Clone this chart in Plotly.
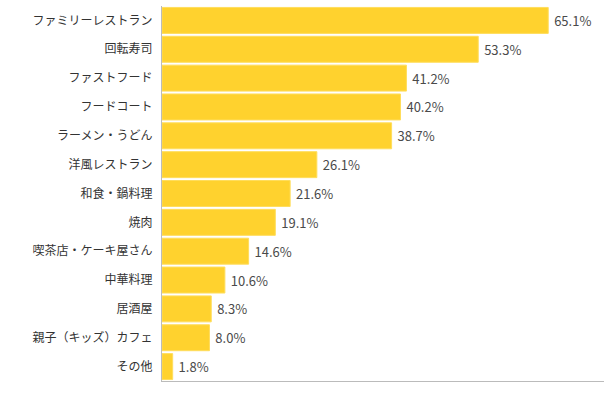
import plotly.graph_objects as go

categories = ["ファミリーレストラン", "回転寿司", "ファストフード", "フードコート", "ラーメン・うどん",
              "洋風レストラン", "和食・鍋料理", "焼肉", "喫茶店・ケーキ屋さん", "中華料理",
              "居酒屋", "親子（キッズ）カフェ", "その他"]
values = [65.1, 53.3, 41.2, 40.2, 38.7, 26.1, 21.6, 19.1, 14.6, 10.6, 8.3, 8.0, 1.8]
labels = [f"\u00a0{v:.1f}%" for v in values]

fig = go.Figure(go.Bar(
    y=categories, x=values, orientation="h",
    marker=dict(color="#FFD22E", line=dict(color="#FFDD5C", width=1)),
    text=labels, textposition="outside", cliponaxis=False,
    textfont=dict(size=13, color="#4A4A4A", family="Noto Sans CJK JP"),
))
fig.update_layout(
    width=604, height=395,
    margin=dict(l=162, r=0, t=6, b=14, autoexpand=False),
    paper_bgcolor="white", plot_bgcolor="white",
    bargap=0.1, showlegend=False,
    font=dict(family="Noto Sans CJK JP", size=12, color="#333333"),
)
fig.update_xaxes(range=[0, 74.5], showticklabels=False, showgrid=False, zeroline=False,
                 showline=True, linecolor="#BBBBBB", linewidth=1, ticks="", automargin=False)
fig.update_yaxes(autorange="reversed", showgrid=False, zeroline=False, automargin=False,
                 showline=True, linecolor="#BBBBBB", linewidth=1,
                 ticks="outside", ticklen=6, tickcolor="rgba(0,0,0,0)",
                 tickfont=dict(size=12, color="#333333"))
fig.write_html("out.html", config={"displayModeBar": False},
               post_script="document.body.style.margin='0';")
